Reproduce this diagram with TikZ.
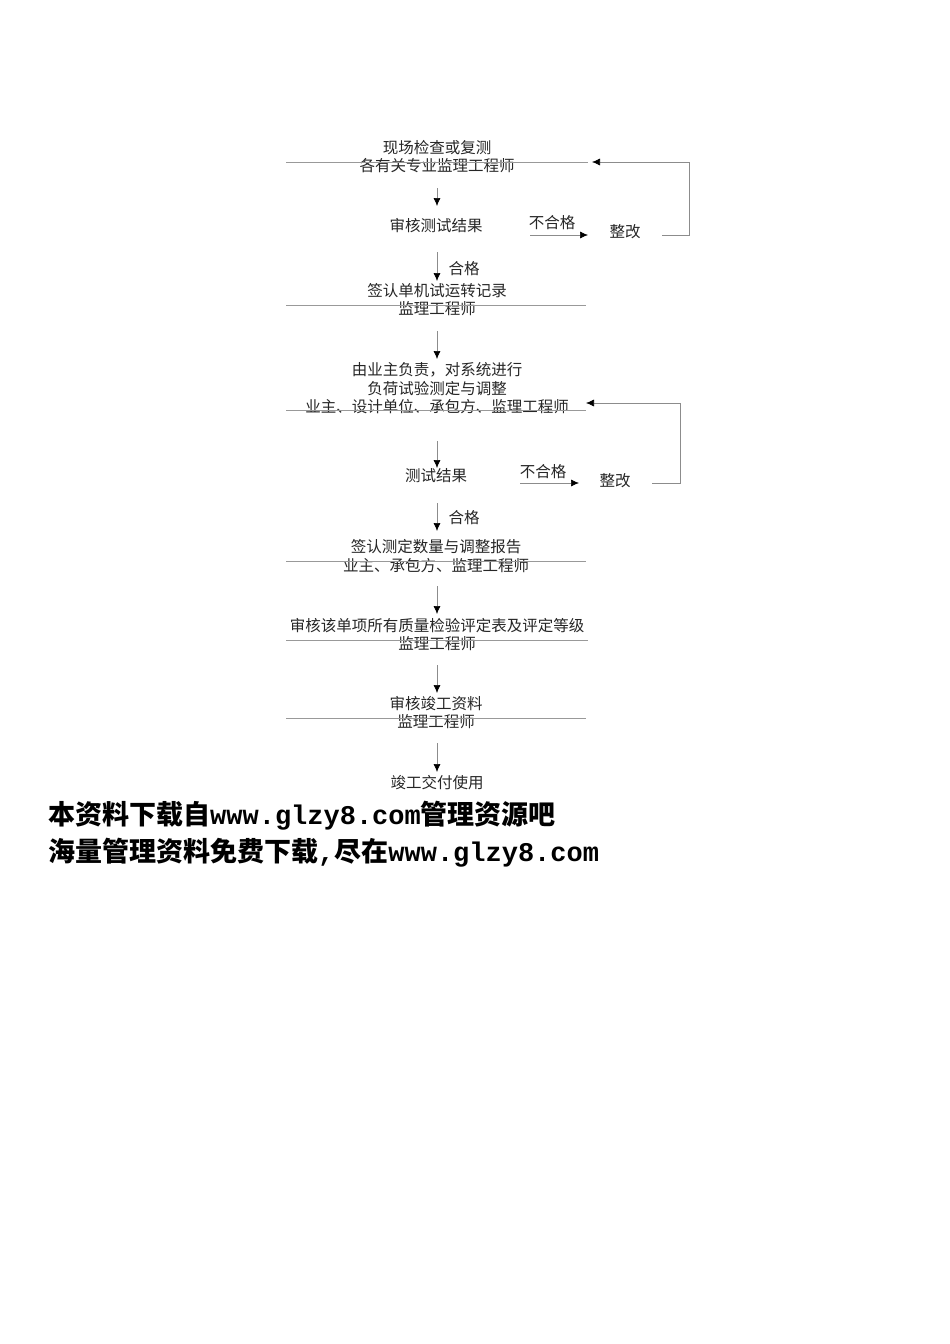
\documentclass[tikz,border=0pt]{standalone}
\usepackage{fontspec}
\newfontfamily\cjk{Noto Sans CJK SC}
\newfontfamily\wmono{Liberation Mono}
\usetikzlibrary{arrows.meta}
\newcommand{\wl}[1]{{\wmono\bfseries #1}}
\begin{document}
\begin{tikzpicture}[x=1pt,y=-1pt,
  lbl/.style={font=\cjk\fontsize{15.5}{16}\selectfont, inner sep=0pt, text=black!85},
  sep/.style={draw=black!40, line width=0.6pt},
  arr/.style={draw=black!45, line width=0.6pt, -{Latex[length=8pt,width=7pt,fill=black,color=black]}},
  wm/.style={font=\cjk\bfseries\fontsize{27}{29}\selectfont, inner sep=0pt, anchor=west}]
\useasboundingbox (0,0) rectangle (950,1344);
\fill[white] (0,0) rectangle (950,1344);
% step 1
\node[lbl] (t1a) at (437,148) {现场检查或复测};
\node[lbl] (t1b) at (437,166) {各有关专业监理工程师};
\coordinate (l1a) at (286,162); \coordinate (l1b) at (588,162);
\draw[sep] (l1a) -- (l1b);
\node[lbl] (t2) at (436,226) {审核测试结果};
\coordinate (a1s) at (437,188); \coordinate (a1e) at (437,206);
\draw[arr] (a1s) -- (a1e);
\node[lbl] (ng1) at (552,223) {不合格};
\coordinate (b1s) at (530,235); \coordinate (b1e) at (588,235);
\draw[arr] (b1s) -- (b1e);
\node[lbl] (fx1) at (625,232) {整改};
\coordinate (c1s) at (662,235); \coordinate (c1e) at (592,162);
\draw[arr] (c1s) -- (689,235) -- (689,162) -- (c1e);
% step 2
\coordinate (a2s) at (437,252); \coordinate (a2e) at (437,281);
\draw[arr] (a2s) -- (a2e);
\node[lbl] (ok1) at (464,269) {合格};
\node[lbl] (t3a) at (437,291) {签认单机试运转记录};
\node[lbl] (t3b) at (437,309) {监理工程师};
\coordinate (l3a) at (286,305); \coordinate (l3b) at (586,305);
\draw[sep] (l3a) -- (l3b);
% step 3
\coordinate (a3s) at (437,331); \coordinate (a3e) at (437,359);
\draw[arr] (a3s) -- (a3e);
\node[lbl] (t4a) at (437,370) {由业主负责，对系统进行};
\node[lbl] (t4b) at (437,389) {负荷试验测定与调整};
\node[lbl] (t4c) at (437,407) {业主、设计单位、承包方、监理工程师};
\coordinate (l4a) at (286,410); \coordinate (l4b) at (586,410);
\draw[sep] (l4a) -- (l4b);
\coordinate (a4s) at (437,441); \coordinate (a4e) at (437,468);
\draw[arr] (a4s) -- (a4e);
\node[lbl] (t5) at (436,476) {测试结果};
\node[lbl] (ng2) at (543,472) {不合格};
\coordinate (b2s) at (520,483); \coordinate (b2e) at (579,483);
\draw[arr] (b2s) -- (b2e);
\node[lbl] (fx2) at (615,481) {整改};
\coordinate (c2s) at (652,483); \coordinate (c2e) at (586,403);
\draw[arr] (c2s) -- (680,483) -- (680,403) -- (c2e);
% step 4
\coordinate (a5s) at (437,503); \coordinate (a5e) at (437,531);
\draw[arr] (a5s) -- (a5e);
\node[lbl] (ok2) at (464,518) {合格};
\node[lbl] (t6a) at (436,547) {签认测定数量与调整报告};
\node[lbl] (t6b) at (436,566) {业主、承包方、监理工程师};
\coordinate (l6a) at (286,561); \coordinate (l6b) at (586,561);
\draw[sep] (l6a) -- (l6b);
% step 5
\coordinate (a6s) at (437,586); \coordinate (a6e) at (437,614);
\draw[arr] (a6s) -- (a6e);
\node[lbl] (t7a) at (437,626) {审核该单项所有质量检验评定表及评定等级};
\node[lbl] (t7b) at (437,644) {监理工程师};
\coordinate (l7a) at (286,640); \coordinate (l7b) at (588,640);
\draw[sep] (l7a) -- (l7b);
% step 6
\coordinate (a7s) at (437,665); \coordinate (a7e) at (437,693);
\draw[arr] (a7s) -- (a7e);
\node[lbl] (t8a) at (436,704) {审核竣工资料};
\node[lbl] (t8b) at (436,722) {监理工程师};
\coordinate (l8a) at (286,718); \coordinate (l8b) at (586,718);
\draw[sep] (l8a) -- (l8b);
% step 7
\coordinate (a8s) at (437,743); \coordinate (a8e) at (437,772);
\draw[arr] (a8s) -- (a8e);
\node[lbl] (t9) at (437,783) {竣工交付使用};
% watermark
\node[wm] (w1) at (48,816) {本资料下载自\wl{www.glzy8.com}管理资源吧};
\node[wm] (w2) at (48,853) {海量管理资料免费下载\wl{,}尽在\wl{www.glzy8.com}};
\end{tikzpicture}
\end{document}
